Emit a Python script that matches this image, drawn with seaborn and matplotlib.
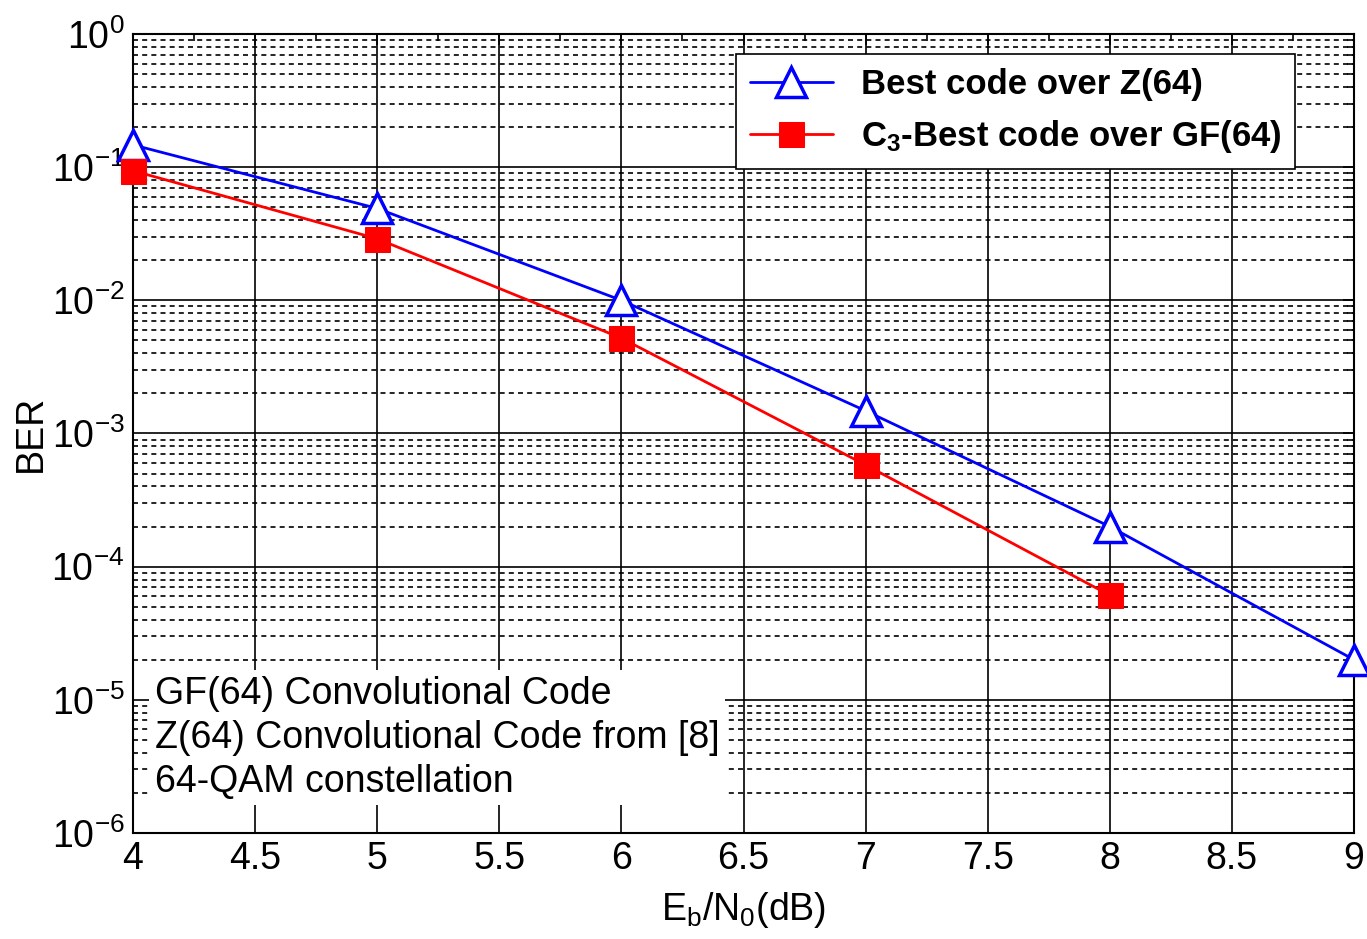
import numpy as np
import pandas as pd
import matplotlib
matplotlib.use("Agg")
import matplotlib.pyplot as plt
import matplotlib.ticker as mticker
import seaborn as sns

# Datos
ebn0 = [4, 5, 6, 7, 8, 9]
ber_z64 = [1.47e-1, 4.9e-2, 1.0e-2, 1.48e-3, 2.0e-4, 2.0e-5]
ebn0_gf = [4, 5, 6, 7, 8]
ber_gf64 = [9.4e-2, 2.9e-2, 5.2e-3, 5.8e-4, 6.1e-5]

label_z64 = "Best code over Z(64)"
label_gf64 = r"$\mathbf{C_3}$-Best code over GF(64)"
note_lines = ["GF(64) Convolutional Code",
              "Z(64) Convolutional Code from [8]",
              "64-QAM constellation"]

sns.set_style("white")
plt.rcParams['font.family'] = ['Liberation Sans', 'DejaVu Sans']
plt.rcParams['mathtext.fontset'] = 'custom'
plt.rcParams['mathtext.rm'] = 'Liberation Sans'
plt.rcParams['mathtext.it'] = 'Liberation Sans'
plt.rcParams['mathtext.bf'] = 'Liberation Sans:bold'
plt.rcParams['text.color'] = 'black'
plt.rcParams['axes.labelcolor'] = 'black'
plt.rcParams['xtick.color'] = 'black'
plt.rcParams['ytick.color'] = 'black'

fs = 27

fig = plt.figure(figsize=(13.67, 9.39), dpi=100)
ax = fig.add_axes([0.0973, 0.1129, 0.8932, 0.8509])

df_z = pd.DataFrame({"x": ebn0, "y": ber_z64})
df_gf = pd.DataFrame({"x": ebn0_gf, "y": ber_gf64})

sns.lineplot(data=df_z, x="x", y="y", ax=ax, color="blue", lw=2,
             marker="^", ms=22, mfc="white", mec="blue", mew=2.5,
             label=label_z64, zorder=5, clip_on=False)
sns.lineplot(data=df_gf, x="x", y="y", ax=ax, color="red", lw=2,
             marker="s", ms=18, mfc="red", mec="red",
             label=label_gf64, zorder=5, clip_on=False)

ax.set_yscale("log")
ax.set_xlim(4, 9)
ax.set_ylim(1e-6, 1)
ax.xaxis.set_major_locator(mticker.MultipleLocator(0.5))
ax.xaxis.set_minor_locator(mticker.MultipleLocator(0.25))
ax.xaxis.set_major_formatter(mticker.FuncFormatter(lambda v, p: f"{v:g}"))
ax.yaxis.set_major_locator(mticker.LogLocator(base=10, numticks=10))
ax.yaxis.set_minor_locator(mticker.LogLocator(base=10, subs=np.arange(2, 10), numticks=20))
ax.yaxis.set_minor_formatter(mticker.NullFormatter())
ax.yaxis.set_major_formatter(mticker.FuncFormatter(
    lambda v, p: r"$10^{%d}$" % int(round(np.log10(v)))))
ax.yaxis.get_offset_text().set_visible(False)
ax.xaxis.get_offset_text().set_visible(False)

ax.grid(which="major", axis="both", color="black", lw=1.2, ls="-")
ax.grid(which="minor", axis="y", color="black", lw=1.2, ls=(0, (3, 2.5)))
ax.set_axisbelow(True)

ax.tick_params(which="both", direction="in", top=True, right=True,
               labelsize=fs, color="black", labelcolor="black")
ax.tick_params(which="major", length=8, width=1.2)
ax.tick_params(which="minor", length=5, width=1.2)
ax.tick_params(axis="x", pad=6)
ax.tick_params(axis="y", pad=6)
for s in ax.spines.values():
    s.set_color("black")
    s.set_linewidth(1.5)

ax.set_xlabel(r"E$_\mathregular{b}$/N$_\mathregular{0}$(dB)", fontsize=fs, labelpad=9)
ax.set_ylabel("BER", fontsize=fs, labelpad=2)

ax.text(0.018, 0.197, "\n".join(note_lines), transform=ax.transAxes,
        fontsize=fs, va="top", ha="left", linespacing=1.29,
        bbox=dict(facecolor="white", edgecolor="none", pad=4), zorder=4)

leg = ax.legend(loc="upper right", bbox_to_anchor=(0.952, 0.975),
                prop={"weight": "bold", "size": 25}, frameon=True,
                fancybox=False, framealpha=1, edgecolor="black",
                handlelength=2.4, handletextpad=0.8, borderpad=0.4,
                labelspacing=0.5, borderaxespad=0)
leg.get_frame().set_linewidth(1.2)

fig.savefig("out.png", dpi=100)
